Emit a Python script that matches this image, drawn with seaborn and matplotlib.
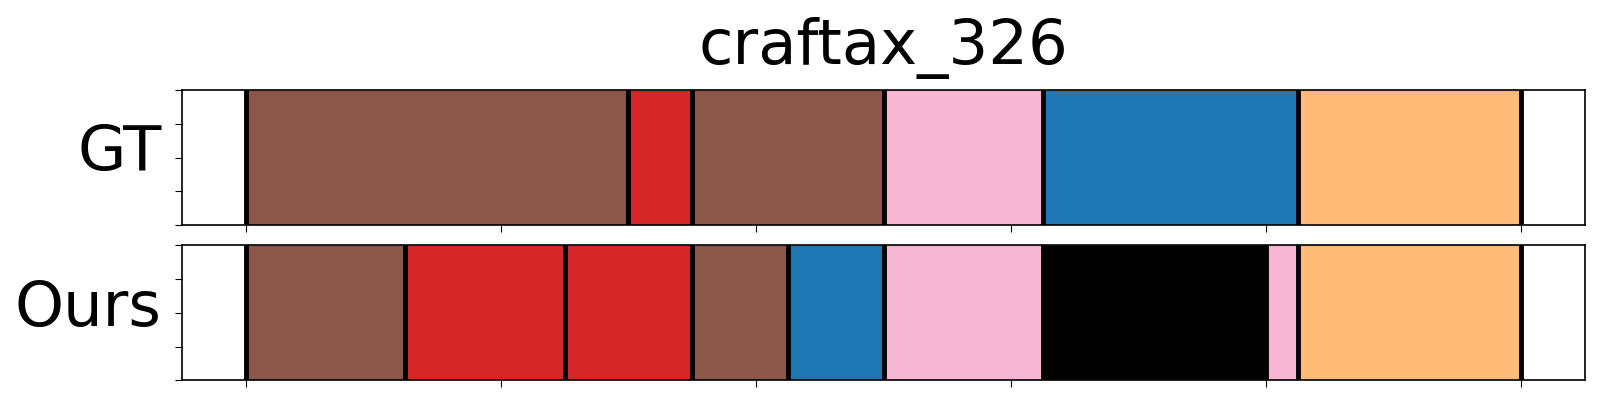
import matplotlib
matplotlib.use("Agg")
import matplotlib.pyplot as plt
import seaborn as sns
import numpy as np

# segment boundaries (frame positions) and the action colour of each segment
gt_bounds = [0, 300, 350, 500, 625, 825, 1000]
gt_labels = ["brown", "red", "brown", "pink", "blue", "orange"]

ours_bounds = [0, 125, 250, 350, 425, 500, 625, 800, 825, 1000]
ours_labels = ["brown", "red", "red", "brown", "blue", "pink", "black", "pink", "orange"]

row_names = ["GT", "Ours"]
title = "craftax_326"

palette = {
    "brown": "#8c564b",
    "red": "#d62728",
    "pink": "#f7b6d2",
    "blue": "#1f77b4",
    "orange": "#ffbb78",
    "black": "#000000",
}


def draw_row(ax, bounds, labels, name):
    starts = np.array(bounds[:-1])
    widths = np.diff(bounds)
    colors = [palette[l] for l in labels]
    ax.barh(0, widths, left=starts, height=1, color=colors,
            edgecolor=(0, 0, 0, 0.15), linewidth=1)
    # thick black marks at every segment start and at the end
    for b in bounds:
        ax.axvline(b, color="black", linewidth=3.5)
    total = bounds[-1] - bounds[0]
    ax.set_xlim(bounds[0] - 0.05 * total, bounds[-1] + 0.05 * total)
    ax.set_ylim(-0.5, 0.5)
    ax.set_yticks(np.linspace(-0.5, 0.5, 5))
    ax.set_yticklabels([])
    ax.set_xticks(np.arange(0, 1001, 200))
    ax.set_xticklabels([])
    ax.set_ylabel(name, rotation=0, fontsize=45, ha="right", va="center",
                  color="black")
    ax.yaxis.set_label_coords(-0.0145, 0.53)
    for s in ax.spines.values():
        s.set_visible(True)
        s.set_color("black")
        s.set_linewidth(1.2)


sns.set_style("ticks")
fig, axes = plt.subplots(2, 1, figsize=(16, 4), dpi=100)
fig.subplots_adjust(left=0.1136, right=0.9908, top=0.775, bottom=0.049, hspace=0.15)

draw_row(axes[0], gt_bounds, gt_labels, row_names[0])
draw_row(axes[1], ours_bounds, ours_labels, row_names[1])
axes[0].set_title(title, fontsize=45, pad=19, color="black")

for ax in axes:
    ax.tick_params(direction="out", length=5, color="black")

fig.savefig("out.png", dpi=100)
